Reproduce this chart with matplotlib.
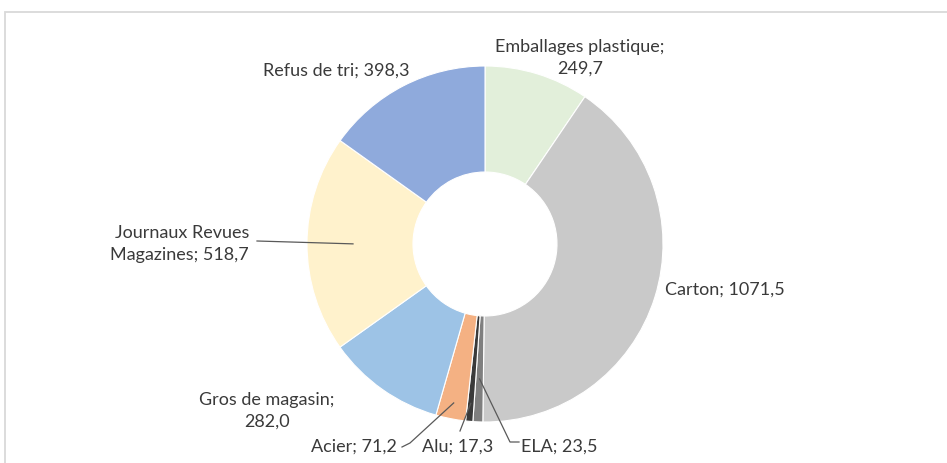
import numpy as np
import matplotlib.pyplot as plt
from matplotlib.patches import Rectangle

plt.rcParams['font.family'] = ['Lato', 'DejaVu Sans']

# Données (tonnes)
categories = ['Emballages plastique', 'Carton', 'ELA', 'Alu', 'Acier',
              'Gros de magasin', 'Journaux Revues Magazines', 'Refus de tri']
valeurs = [249.7, 1071.5, 23.5, 17.3, 71.2, 282.0, 518.7, 398.3]
couleurs = ['#E2EFDA', '#C9C9C9', '#7F7F7F', '#3A3A3A', '#F4B183',
            '#9DC3E6', '#FFF2CC', '#8FAADC']

W, H = 947, 464
fig = plt.figure(figsize=(W / 100, H / 100), dpi=100)
ax = fig.add_axes([0, 0, 1, 1])

cx, cy = 485, H - 245
R = 178
r_in = 72

wedges, _ = ax.pie(valeurs, colors=couleurs, startangle=90, counterclock=False,
                   radius=R, center=(cx, cy),
                   wedgeprops=dict(width=R - r_in, edgecolor='white', linewidth=0.8))

ax.set_xlim(0, W)
ax.set_ylim(0, H)
ax.set_aspect('equal')
ax.axis('off')

# cadre du graphique
fig.patches.append(Rectangle((5 / W, -0.1), 1.2, (H - 13) / H + 0.1, transform=fig.transFigure,
                             fill=False, edgecolor='#D9D9D9', linewidth=1.3))


def fmt(v):
    return f'{v:.1f}'.replace('.', ',')


def pt(i, rad):
    w = wedges[i]
    a = np.deg2rad((w.theta1 + w.theta2) / 2)
    return cx + rad * np.cos(a), cy + rad * np.sin(a)


txt = dict(fontsize=13, color='#3A3A3A')

def label(s, x, y, ha='center'):
    ax.text(x, H - y, s, ha=ha, va='center', linespacing=1.4, **txt)


label(f'Emballages plastique;\n{fmt(valeurs[0])}', 580, 58)
label(f'Carton; {fmt(valeurs[1])}', 665, 290, ha='left')
label(f'Refus de tri; {fmt(valeurs[7])}', 336, 71)
label(f'Journaux Revues\nMagazines; {fmt(valeurs[6])}', 249, 244, ha='right')
label(f'Gros de magasin;\n{fmt(valeurs[5])}', 267, 411)
label(f'Acier; {fmt(valeurs[4])}', 397, 447, ha='right')
label(f'Alu; {fmt(valeurs[3])}', 458, 447)
label(f'ELA; {fmt(valeurs[2])}', 521, 447, ha='left')

lc = dict(color='#595959', linewidth=0.9)
# lignes de rappel
x0, y0 = pt(6, 132)
ax.plot([257, x0], [H - 242, y0], **lc)
x0, y0 = pt(4, 162)
ax.plot([402, 410, x0], [H - 448, H - 444, y0], **lc)
x0, y0 = pt(3, 160)
ax.plot([460, x0], [H - 432, y0], **lc)
x0, y0 = pt(2, 135)
ax.plot([519, 510, x0], [H - 443, H - 443, y0], **lc)

fig.savefig('out.png', dpi=100)
